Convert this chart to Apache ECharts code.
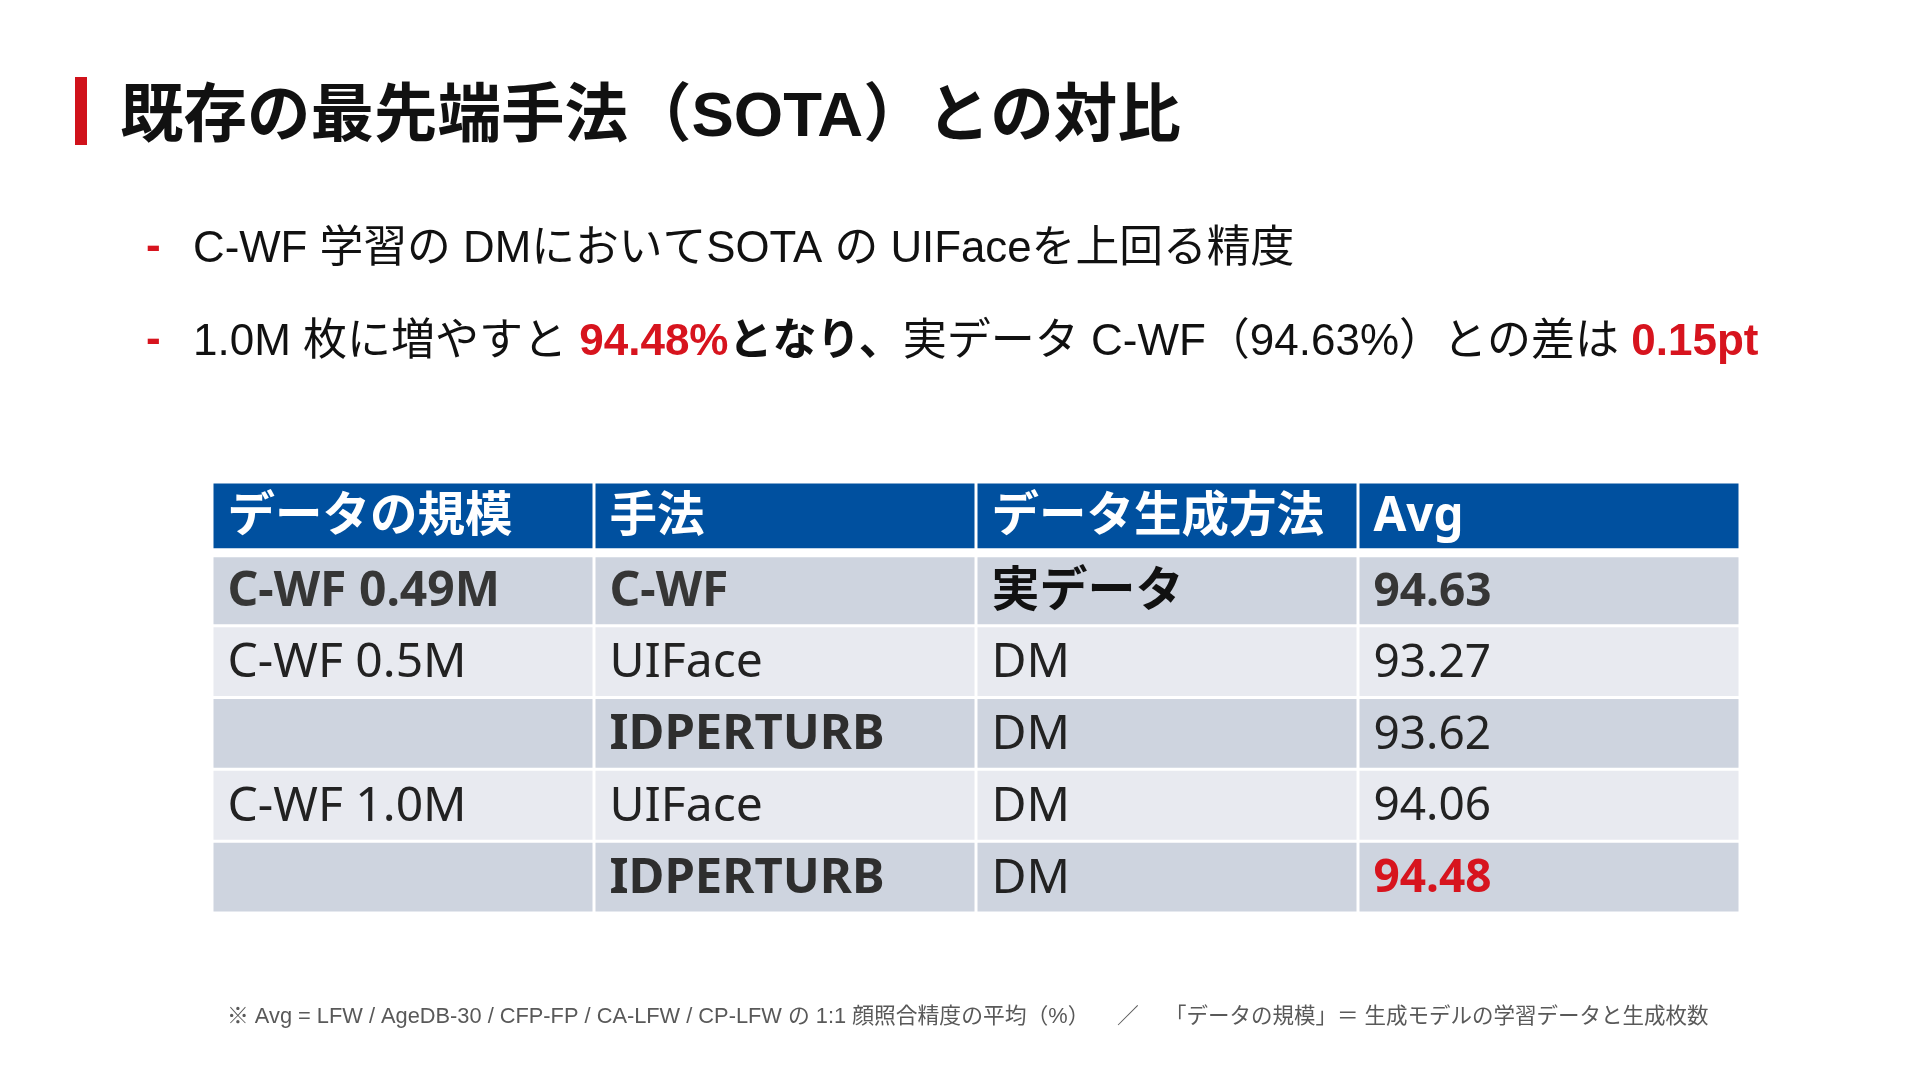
<!DOCTYPE html>
<html>
<head>
<meta charset="utf-8">
<script src="https://cdn.jsdelivr.net/npm/echarts@6/dist/echarts.min.js"></script>
<style>
html,body{margin:0;padding:0;background:#fff;}
#chart{width:1920px;height:1082px;}
</style>
</head>
<body>
<div id="chart"></div>
<script>
// ---- data ----
const titleText = '既存の最先端手法（SOTA）との対比';
const headers = ['データの規模', '手法', 'データ生成方法', 'Avg'];
const dataScales = ['C-WF 0.49M', 'C-WF 0.5M', '', 'C-WF 1.0M', ''];
const methods = ['C-WF', 'UIFace', 'IDPERTURB', 'UIFace', 'IDPERTURB'];
const genMethods = ['実データ', 'DM', 'DM', 'DM', 'DM'];
const avgValues = [94.63, 93.27, 93.62, 94.06, 94.48];
const footnoteLeft = '※ Avg = LFW / AgeDB-30 / CFP-FP / CA-LFW / CP-LFW の 1:1 顔照合精度の平均（%）';
const footnoteSep = '／';
const footnoteRight = '「データの規模」＝ 生成モデルの学習データと生成枚数';

// ---- derived ----
const realIdx = genMethods.indexOf('実データ');
let bestIdx = -1;
avgValues.forEach((v, i) => { if (genMethods[i] === 'DM' && (bestIdx < 0 || v > avgValues[bestIdx])) bestIdx = i; });
const realVal = avgValues[realIdx];
const bestVal = avgValues[bestIdx];
const gap = (realVal - bestVal).toFixed(2);

const rowLabels = ['header'].concat(methods.map((m, i) => 'r' + i));
const cells = [];
headers.forEach((h, c) => cells.push([c, 0, h]));
methods.forEach((m, i) => {
  const vals = [dataScales[i], m, genMethods[i], avgValues[i].toFixed(2)];
  vals.forEach((t, c) => cells.push([c, i + 1, t]));
});

const RED = '#D7141E';
const latinCJK = "'Liberation Sans', Arial, 'Noto Sans CJK JP', sans-serif";
const tableFont = "'Noto Sans', 'Noto Sans CJK JP', sans-serif";

const chart = echarts.init(document.getElementById('chart'), null, {renderer: 'canvas', width: 1920, height: 1082});

const option = {
  backgroundColor: '#ffffff',
  animation: false,
  grid: {left: 212, right: 180, top: 482, bottom: 169, containLabel: false},
  xAxis: {type: 'category', data: headers, show: false},
  yAxis: {type: 'category', data: rowLabels, inverse: true, show: false},
  series: [{
    type: 'custom',
    coordinateSystem: 'cartesian2d',
    encode: {x: 0, y: 1},
    data: cells,
    renderItem: function (params, api) {
      const c = api.value(0);
      const r = api.value(1);
      const txt = cells[params.dataIndex][2];
      const pt = api.coord([c, r]);
      const sz = api.size([1, 1]);
      const x = pt[0] - sz[0] / 2 + 1.5;
      let y = pt[1] - sz[1] / 2 + 1.5;
      const w = sz[0] - 3;
      let h = sz[1] - 3;
      let fill, color, weight, fsize;
      if (r === 0) {
        h -= 4;
        fill = '#00509F'; color = '#ffffff'; weight = 'bold'; fsize = 47.5;
      } else {
        const i = r - 1;
        if (i === 0) { y += 2; h -= 2; }
        fill = (i % 2 === 0) ? '#CED4DF' : '#E8EAF0';
        color = '#222222';
        weight = 'normal';
        fsize = (c === 3) ? 46 : 48;
        if (i === realIdx) { weight = 'bold'; color = (c === 2) ? '#111111' : '#363636'; }
        if (c === 1 && txt === 'IDPERTURB') { weight = 'bold'; color = '#2e2e2e'; fsize = 49; }
        if (c === 3 && i === bestIdx) { weight = 'bold'; color = RED; }
      }
      return {
        type: 'group',
        children: [
          {type: 'rect', shape: {x: x, y: y, width: w, height: h}, style: {fill: fill}},
          {type: 'text', style: {
            text: txt, x: x + 14, y: y + h / 2 + 2,
            fill: color, fontSize: fsize, fontWeight: weight, fontFamily: tableFont,
            align: 'left', verticalAlign: 'middle'
          }}
        ]
      };
    }
  }],
  graphic: [
    {type: 'rect', shape: {x: 75, y: 77, width: 12, height: 68}, style: {fill: '#D0121B'}},
    {type: 'text', style: {
      text: titleText, x: 120, y: 118, fill: '#111111',
      fontSize: 63.5, fontWeight: 'bold', fontFamily: latinCJK, verticalAlign: 'middle'
    }},
    {type: 'text', style: {text: '-', x: 146, y: 248, fill: RED, fontSize: 44, fontWeight: 'bold', fontFamily: latinCJK, verticalAlign: 'middle'}},
    {type: 'text', style: {
      text: 'C-WF 学習の DMにおいてSOTA の UIFaceを上回る精度', x: 193, y: 250, fill: '#111111',
      fontSize: 43.8, fontFamily: latinCJK, verticalAlign: 'middle'
    }},
    {type: 'text', style: {text: '-', x: 146, y: 341, fill: RED, fontSize: 44, fontWeight: 'bold', fontFamily: latinCJK, verticalAlign: 'middle'}},
    {type: 'text', style: {
      text: '{n|1.0M 枚に増やすと }{r|' + bestVal.toFixed(2) + '%}{b|となり、}{n|実データ C-WF（' + realVal.toFixed(2) + '%）との差は }{r|' + gap + 'pt}',
      x: 193, y: 343, verticalAlign: 'middle',
      rich: {
        n: {fontSize: 44, fontFamily: latinCJK, fill: '#111111'},
        b: {fontSize: 44, fontFamily: latinCJK, fill: '#111111', fontWeight: 'bold'},
        r: {fontSize: 44, fontFamily: latinCJK, fill: RED, fontWeight: 'bold'}
      }
    }},
    {type: 'text', style: {text: footnoteLeft, x: 227, y: 1017, fill: '#595959', fontSize: 21.8, fontFamily: latinCJK, verticalAlign: 'middle'}},
    {type: 'text', style: {text: footnoteSep, x: 1117, y: 1017, fill: '#595959', fontSize: 21.8, fontFamily: latinCJK, verticalAlign: 'middle'}},
    {type: 'text', style: {text: footnoteRight, x: 1165, y: 1017, fill: '#595959', fontSize: 21.5, fontFamily: latinCJK, verticalAlign: 'middle'}}
  ]
};
chart.setOption(option);
</script>
</body>
</html>
